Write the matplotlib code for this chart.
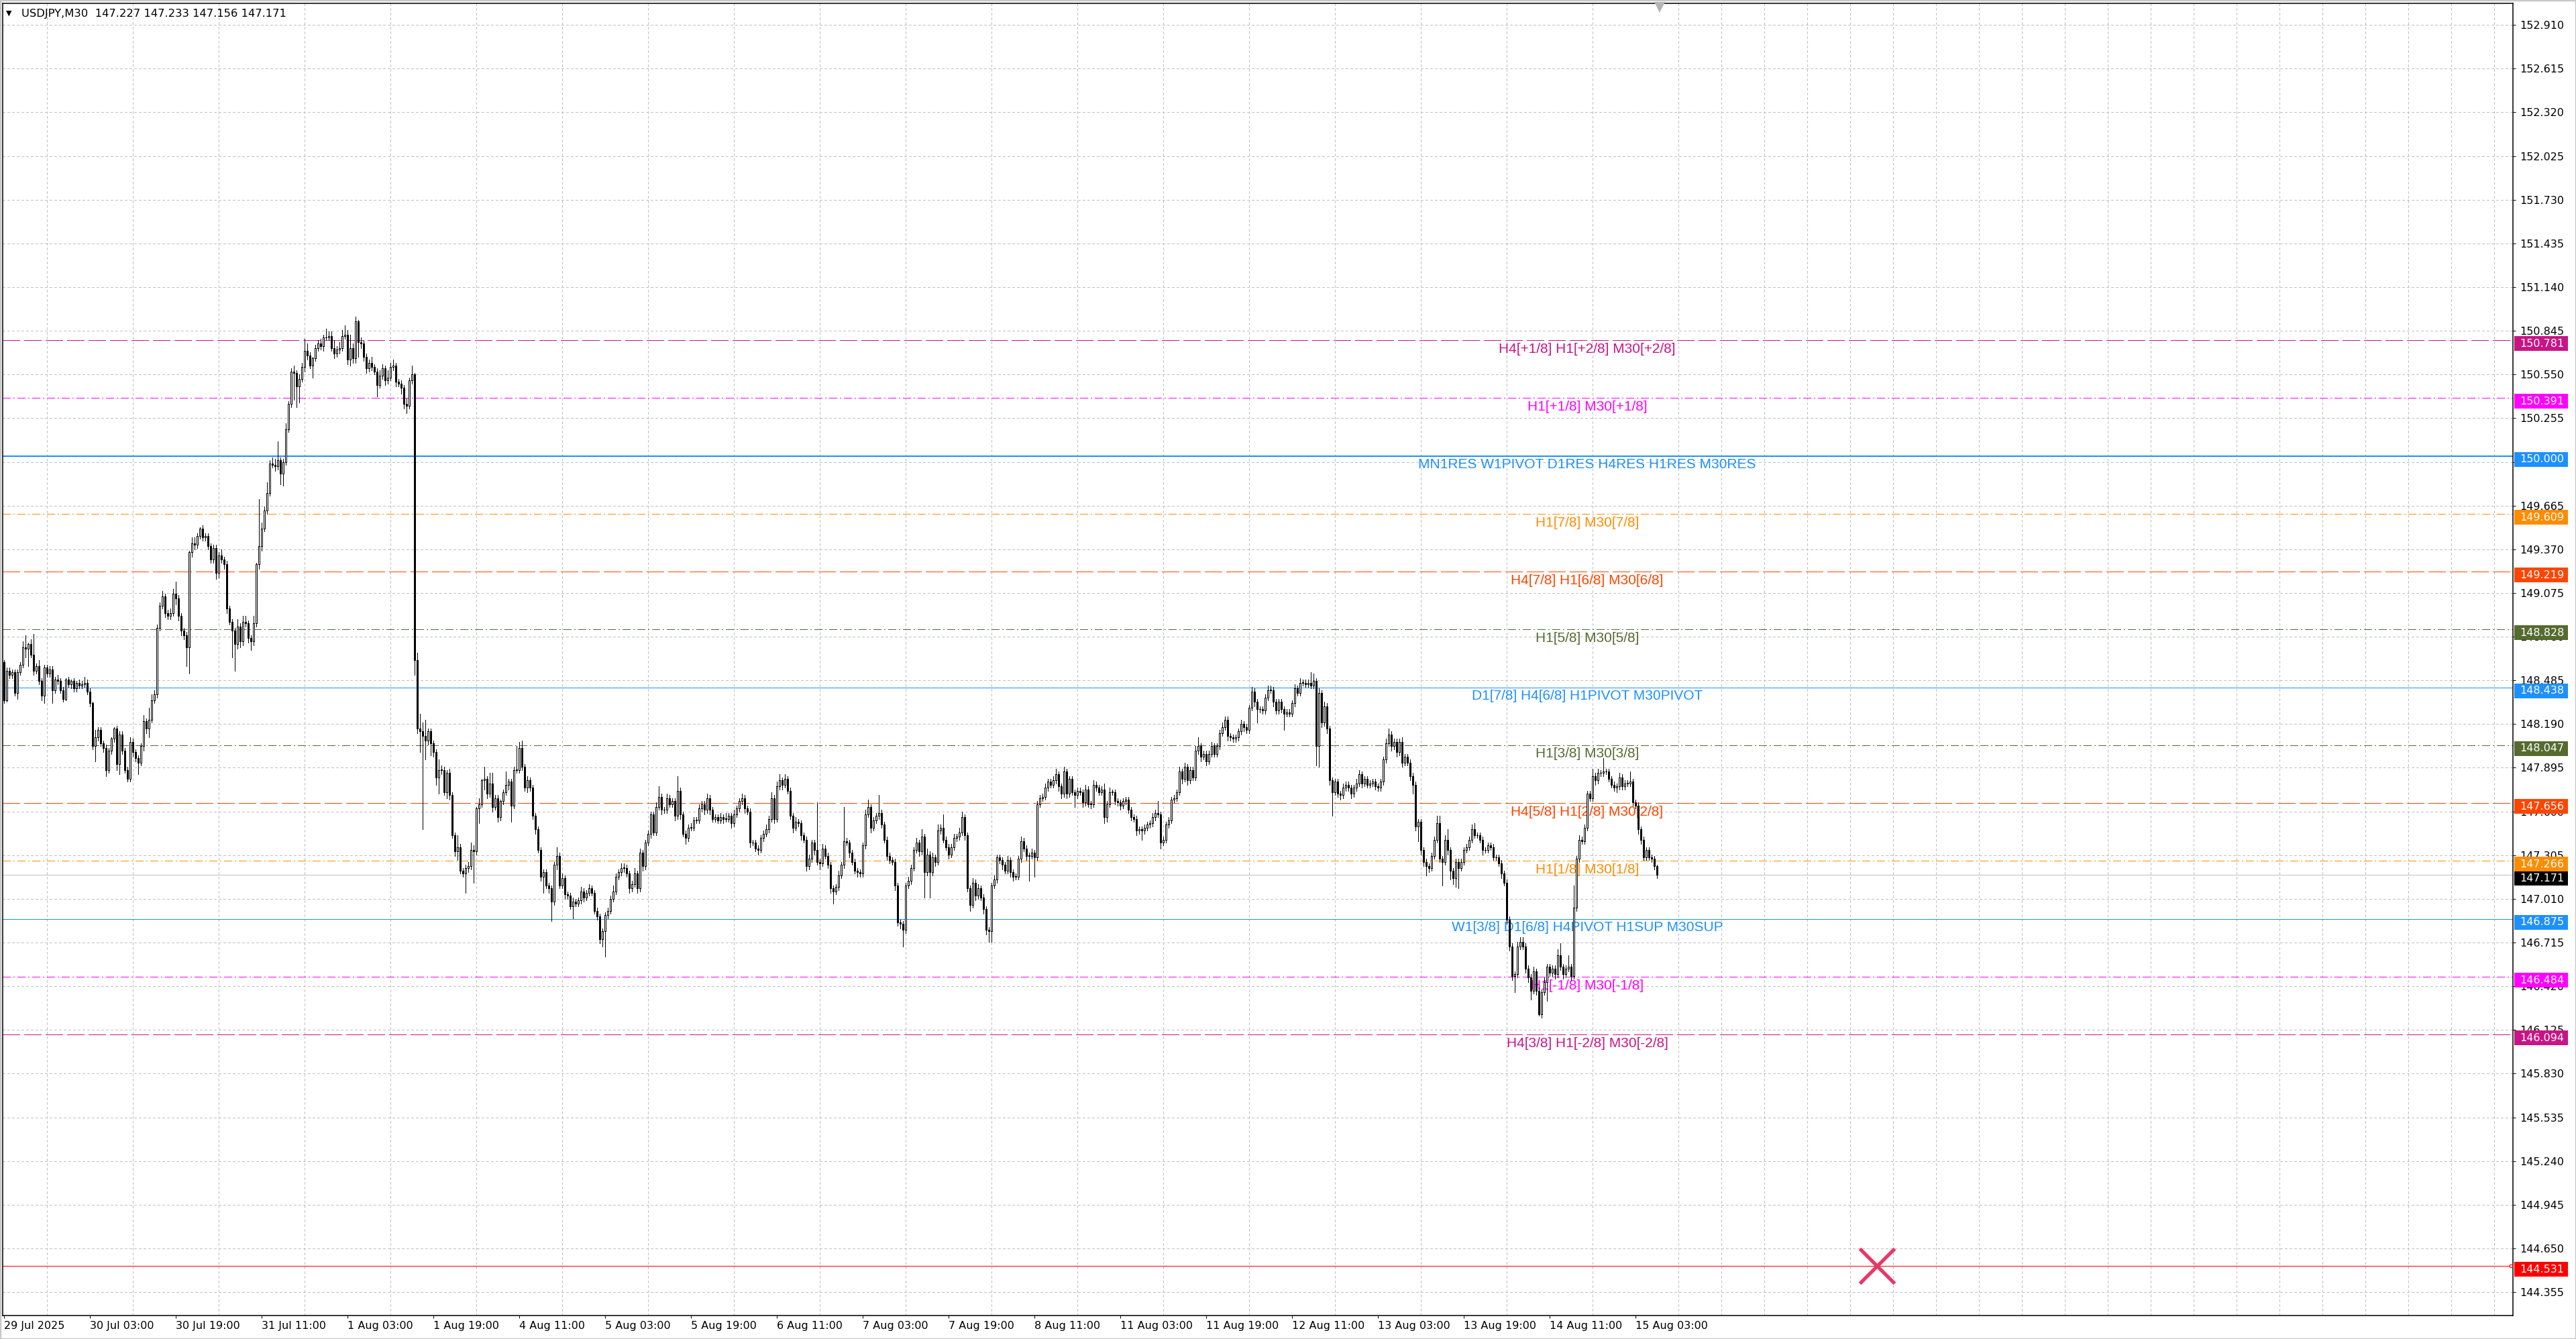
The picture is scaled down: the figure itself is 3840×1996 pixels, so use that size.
import numpy as np
import matplotlib
matplotlib.use("Agg")
import matplotlib.pyplot as plt
from matplotlib.patches import Rectangle
from matplotlib.transforms import blended_transform_factory

plt.rcParams['lines.scale_dashes'] = False
plt.rcParams['font.family'] = ['DejaVu Sans']

# ---------------- data ----------------
chart_title = "USDJPY,M30  147.227 147.233 147.156 147.171"
open_first = 148.61

close = [
    148.35, 148.55, 148.52, 148.54, 148.40, 148.54, 148.59, 148.71, 148.70, 148.73,
    148.66, 148.55, 148.58, 148.48, 148.38, 148.57, 148.53, 148.56, 148.42, 148.49,
    148.48, 148.42, 148.36, 148.49, 148.46, 148.48, 148.43, 148.47, 148.45, 148.46,
    148.47, 148.41, 148.33, 148.04, 148.10, 148.15, 148.06, 148.03, 147.88, 148.01,
    148.09, 148.16, 147.92, 148.12, 148.01, 147.88, 147.82, 148.07, 148.00, 147.96,
    147.93, 148.04, 148.21, 148.16, 148.22, 148.35, 148.39, 148.84, 148.99, 149.05,
    148.94, 148.92, 148.94, 149.07, 149.04, 148.92, 148.82, 148.79, 148.71, 149.35,
    149.41, 149.40, 149.46, 149.51, 149.45, 149.46, 149.39, 149.30, 149.38, 149.21,
    149.33, 149.30, 149.27, 148.97, 148.88, 148.82, 148.73, 148.85, 148.75, 148.88,
    148.87, 148.77, 148.75, 148.87, 149.27, 149.39, 149.51, 149.63, 149.75, 149.95,
    149.94, 149.93, 149.97, 149.88, 149.96, 150.18, 150.35, 150.57, 150.56, 150.47,
    150.52, 150.60, 150.71, 150.68, 150.61, 150.66, 150.73, 150.76, 150.74, 150.80,
    150.80, 150.81, 150.73, 150.69, 150.72, 150.73, 150.81, 150.82, 150.65, 150.73,
    150.66, 150.91, 150.77, 150.76, 150.67, 150.59, 150.63, 150.60, 150.57, 150.48,
    150.54, 150.59, 150.51, 150.53, 150.60, 150.61, 150.50, 150.49, 150.46, 150.35,
    150.34, 150.51, 150.55, 148.62, 148.16, 148.14, 148.11, 148.08, 148.14, 148.06,
    148.00, 147.83, 147.88, 147.88, 147.73, 147.86, 147.71, 147.44, 147.33, 147.36,
    147.20, 147.18, 147.22, 147.23, 147.34, 147.33, 147.62, 147.65, 147.81, 147.82,
    147.72, 147.79, 147.63, 147.69, 147.56, 147.67, 147.73, 147.78, 147.80, 147.64,
    147.88, 147.88, 148.03, 147.90, 147.76, 147.81, 147.76, 147.57, 147.48, 147.34,
    147.16, 147.19, 147.10, 147.08, 146.99, 147.24, 147.30, 147.10, 147.15, 147.04,
    147.03, 146.96, 146.99, 146.98, 147.00, 147.06, 147.02, 147.05, 147.08, 147.05,
    146.93, 146.89, 146.74, 146.79, 146.90, 146.93, 147.01, 147.06, 147.16, 147.19,
    147.22, 147.22, 147.18, 147.08, 147.11, 147.18, 147.08, 147.32, 147.23, 147.39,
    147.45, 147.58, 147.46, 147.63, 147.70, 147.61, 147.61, 147.69, 147.65, 147.67,
    147.57, 147.74, 147.58, 147.45, 147.42, 147.49, 147.49, 147.54, 147.54, 147.62,
    147.65, 147.61, 147.69, 147.61, 147.55, 147.56, 147.54, 147.56, 147.55, 147.55,
    147.57, 147.52, 147.58, 147.62, 147.67, 147.69, 147.62, 147.60, 147.39, 147.39,
    147.35, 147.34, 147.42, 147.45, 147.48, 147.55, 147.69, 147.55, 147.77, 147.81,
    147.78, 147.82, 147.74, 147.57, 147.49, 147.53, 147.52, 147.44, 147.41, 147.23,
    147.28, 147.39, 147.34, 147.26, 147.25, 147.35, 147.30, 147.24, 147.08, 147.06,
    147.09, 147.17, 147.24, 147.40, 147.39, 147.32, 147.26, 147.20, 147.19, 147.18,
    147.37, 147.58, 147.63, 147.49, 147.54, 147.57, 147.59, 147.51, 147.41, 147.30,
    147.27, 147.26, 147.10, 146.85, 146.84, 146.80, 147.10, 147.13, 147.22, 147.34,
    147.39, 147.33, 147.43, 147.19, 147.31, 147.19, 147.29, 147.26, 147.47, 147.49,
    147.41, 147.36, 147.31, 147.36, 147.42, 147.43, 147.46, 147.56, 147.44, 147.08,
    146.97, 147.12, 147.03, 147.08, 147.02, 146.94, 146.80, 146.79, 147.10, 147.14,
    147.29, 147.27, 147.24, 147.20, 147.27, 147.19, 147.16, 147.16, 147.28, 147.40,
    147.35, 147.30, 147.30, 147.32, 147.29, 147.65, 147.69, 147.70, 147.76, 147.80,
    147.78, 147.81, 147.85, 147.77, 147.72, 147.87, 147.72, 147.82, 147.73, 147.71,
    147.74, 147.73, 147.66, 147.75, 147.65, 147.65, 147.78, 147.76, 147.73, 147.75,
    147.56, 147.65, 147.73, 147.73, 147.67, 147.66, 147.64, 147.67, 147.68, 147.61,
    147.56, 147.55, 147.47, 147.48, 147.47, 147.49, 147.51, 147.52, 147.56, 147.59,
    147.58, 147.39, 147.41, 147.51, 147.54, 147.68, 147.69, 147.73, 147.87, 147.82,
    147.90, 147.81, 147.88, 147.83, 148.01, 148.04, 147.97, 147.99, 147.94, 147.99,
    148.04, 147.99, 148.04, 148.13, 148.17, 148.22, 148.11, 148.10, 148.09, 148.10,
    148.14, 148.19, 148.17, 148.15, 148.30, 148.41, 148.34, 148.29, 148.29, 148.28,
    148.37, 148.42, 148.42, 148.34, 148.28, 148.34, 148.29, 148.26, 148.27, 148.26,
    148.33, 148.43, 148.40, 148.47, 148.47, 148.46, 148.47, 148.45, 148.48, 148.04,
    148.40, 148.20, 148.31, 148.16, 147.81, 147.73, 147.80, 147.72, 147.71, 147.76,
    147.78, 147.76, 147.72, 147.76, 147.79, 147.85, 147.79, 147.82, 147.78, 147.79,
    147.80, 147.77, 147.76, 147.80, 147.95, 148.06, 148.12, 148.04, 148.07, 148.00,
    148.07, 147.93, 147.97, 147.93, 147.84, 147.78, 147.50, 147.53, 147.34, 147.26,
    147.23, 147.22, 147.30, 147.41, 147.52, 147.28, 147.26, 147.41, 147.34, 147.20,
    147.15, 147.26, 147.22, 147.26, 147.34, 147.36, 147.41, 147.48, 147.44, 147.44,
    147.41, 147.34, 147.34, 147.37, 147.36, 147.29, 147.29, 147.25, 147.18, 147.12,
    146.87, 146.69, 146.49, 146.50, 146.69, 146.72, 146.69, 146.54, 146.48, 146.39,
    146.52, 146.39, 146.23, 146.38, 146.45, 146.55, 146.51, 146.54, 146.50, 146.63,
    146.55, 146.50, 146.54, 146.55, 146.49, 146.95, 147.28, 147.41, 147.40, 147.49,
    147.72, 147.69, 147.84, 147.81, 147.86, 147.86, 147.87, 147.87, 147.82, 147.78,
    147.76, 147.77, 147.83, 147.77, 147.79, 147.79, 147.80, 147.66, 147.64, 147.48,
    147.41, 147.29, 147.34, 147.29, 147.28, 147.23, 147.171,
]

# upper / lower wick lengths beyond the body, in 0.01 JPY
wick_up = [
    1, 2, 2, 2, 2, 2, 2, 4, 8, 1,
    3, 14, 2, 4, 2, 2, 2, 2, 2, 2,
    3, 2, 2, 1, 2, 1, 2, 1, 2, 2,
    4, 2, 2, 1, 5, 2, 2, 2, 2, 2,
    1, 1, 2, 2, 2, 2, 2, 3, 2, 2,
    2, 2, 4, 2, 8, 4, 3, 2, 2, 4,
    2, 2, 3, 3, 8, 2, 2, 2, 2, 1,
    4, 4, 2, 1, 2, 2, 2, 2, 2, 2,
    2, 4, 2, 2, 2, 2, 2, 5, 2, 4,
    4, 2, 2, 5, 1, 32, 4, 3, 7, 2,
    4, 4, 13, 2, 2, 4, 2, 2, 4, 2,
    3, 3, 8, 5, 2, 1, 2, 2, 3, 2,
    6, 3, 3, 5, 2, 4, 4, 6, 3, 9,
    3, 3, 1, 3, 2, 2, 2, 4, 2, 2,
    4, 3, 2, 5, 3, 4, 2, 2, 2, 2,
    4, 2, 6, 1, 5, 10, 6, 11, 2, 2,
    2, 2, 7, 3, 2, 2, 3, 2, 2, 8,
    2, 2, 2, 3, 5, 3, 1, 4, 1, 8,
    2, 7, 7, 2, 2, 1, 2, 9, 2, 2,
    2, 16, 4, 5, 2, 3, 2, 2, 2, 2,
    2, 2, 2, 2, 2, 2, 6, 2, 3, 2,
    2, 2, 3, 2, 2, 3, 2, 2, 3, 2,
    2, 2, 2, 2, 2, 2, 2, 4, 2, 2,
    3, 3, 2, 2, 2, 4, 2, 3, 2, 2,
    2, 2, 2, 3, 7, 2, 2, 3, 2, 2,
    2, 10, 2, 2, 2, 2, 3, 2, 2, 3,
    2, 2, 3, 2, 2, 2, 2, 3, 2, 4,
    2, 2, 3, 2, 2, 3, 2, 2, 2, 2,
    2, 2, 2, 2, 3, 2, 4, 2, 3, 4,
    2, 3, 2, 2, 2, 3, 2, 2, 2, 2,
    3, 2, 2, 32, 2, 3, 2, 2, 2, 2,
    2, 3, 2, 23, 2, 2, 2, 2, 2, 2,
    2, 3, 5, 2, 2, 2, 12, 2, 2, 2,
    2, 2, 2, 2, 2, 2, 2, 3, 2, 2,
    3, 2, 5, 2, 4, 2, 3, 2, 4, 2,
    9, 2, 2, 2, 3, 2, 3, 4, 2, 2,
    2, 3, 2, 3, 2, 2, 2, 2, 2, 3,
    2, 2, 2, 2, 3, 2, 2, 2, 2, 3,
    2, 2, 2, 3, 2, 2, 2, 2, 3, 2,
    2, 3, 4, 2, 2, 3, 2, 2, 2, 2,
    2, 2, 2, 3, 2, 2, 3, 2, 2, 2,
    4, 2, 3, 2, 2, 2, 2, 2, 2, 2,
    2, 2, 2, 2, 2, 2, 2, 2, 3, 2,
    8, 2, 2, 2, 2, 2, 2, 2, 3, 2,
    3, 2, 2, 2, 3, 6, 2, 2, 2, 2,
    3, 2, 2, 2, 3, 2, 2, 2, 2, 2,
    2, 3, 2, 2, 2, 3, 2, 2, 2, 2,
    2, 3, 3, 2, 2, 2, 2, 2, 2, 2,
    2, 3, 2, 3, 2, 2, 2, 7, 5, 2,
    3, 2, 3, 2, 2, 2, 2, 2, 2, 3,
    2, 2, 2, 2, 3, 3, 2, 2, 2, 2,
    2, 2, 2, 2, 2, 3, 4, 2, 2, 2,
    2, 3, 2, 2, 2, 2, 2, 2, 2, 2,
    2, 2, 2, 2, 5, 5, 2, 3, 7, 2,
    2, 2, 2, 2, 2, 2, 2, 3, 4, 2,
    2, 2, 2, 2, 2, 2, 2, 2, 2, 2,
    2, 2, 2, 2, 3, 3, 3, 2, 2, 2,
    3, 2, 2, 2, 3, 2, 2, 2, 2, 4,
    8, 2, 2, 8, 2, 15, 2, 3, 2, 2,
    2, 2, 5, 2, 3, 2, 9, 2, 2, 2,
    2, 2, 3, 2, 2, 2, 7, 2, 2, 2,
    2, 2, 2, 2, 2, 2, 1,
]

wick_dn = [
    2, 1, 2, 2, 2, 4, 2, 2, 6, 12,
    2, 3, 2, 2, 3, 5, 2, 2, 9, 2,
    2, 2, 2, 1, 2, 3, 2, 2, 2, 2,
    2, 2, 2, 2, 10, 2, 2, 3, 4, 2,
    2, 2, 4, 7, 2, 2, 2, 2, 3, 2,
    8, 2, 3, 3, 6, 2, 2, 2, 2, 2,
    3, 2, 2, 2, 4, 3, 3, 3, 13, 18,
    3, 3, 2, 2, 2, 2, 2, 2, 2, 4,
    3, 2, 3, 3, 2, 18, 18, 3, 4, 3,
    2, 3, 6, 3, 2, 3, 3, 2, 2, 2,
    2, 3, 2, 7, 8, 2, 2, 2, 18, 14,
    11, 2, 3, 3, 2, 8, 2, 2, 2, 3,
    2, 2, 2, 3, 2, 3, 2, 2, 3, 4,
    3, 3, 10, 3, 3, 3, 2, 2, 2, 8,
    2, 2, 3, 2, 2, 2, 3, 2, 4, 3,
    5, 2, 2, 10, 3, 14, 63, 13, 3, 8,
    3, 5, 11, 3, 2, 4, 3, 2, 3, 6,
    2, 2, 13, 3, 2, 21, 2, 10, 2, 6,
    3, 2, 3, 2, 3, 2, 2, 2, 3, 11,
    2, 2, 2, 2, 2, 3, 2, 2, 3, 2,
    3, 11, 2, 3, 13, 2, 3, 2, 2, 3,
    2, 2, 8, 2, 2, 2, 3, 2, 2, 2,
    2, 2, 3, 5, 17, 2, 2, 2, 2, 2,
    2, 3, 2, 3, 2, 2, 3, 2, 3, 2,
    2, 3, 2, 2, 2, 3, 2, 2, 2, 2,
    3, 2, 3, 2, 4, 2, 2, 2, 2, 2,
    2, 3, 2, 3, 2, 2, 2, 2, 3, 2,
    2, 3, 2, 2, 2, 2, 3, 2, 3, 2,
    2, 3, 2, 2, 2, 2, 2, 3, 2, 2,
    3, 2, 2, 2, 3, 2, 2, 3, 2, 3,
    2, 2, 3, 2, 4, 2, 2, 2, 3, 8,
    2, 2, 2, 2, 2, 3, 2, 2, 3, 2,
    2, 2, 2, 3, 2, 2, 2, 2, 2, 3,
    2, 2, 3, 2, 3, 11, 2, 2, 2, 2,
    2, 3, 2, 17, 2, 17, 2, 3, 2, 2,
    2, 2, 3, 2, 2, 2, 2, 2, 3, 2,
    4, 2, 3, 2, 2, 3, 3, 7, 7, 2,
    2, 2, 3, 2, 2, 3, 3, 2, 2, 2,
    2, 3, 17, 2, 13, 2, 2, 2, 2, 2,
    2, 2, 2, 3, 3, 2, 3, 2, 2, 8,
    2, 2, 3, 2, 2, 3, 2, 2, 2, 2,
    4, 3, 2, 2, 2, 2, 3, 2, 2, 2,
    2, 2, 3, 2, 6, 2, 2, 2, 2, 2,
    2, 4, 2, 2, 2, 2, 2, 2, 2, 3,
    2, 3, 2, 2, 2, 2, 3, 2, 3, 2,
    2, 2, 2, 2, 2, 2, 3, 2, 2, 2,
    2, 2, 3, 2, 2, 2, 3, 9, 2, 2,
    2, 2, 2, 3, 2, 2, 2, 11, 2, 2,
    2, 2, 2, 2, 2, 2, 2, 2, 2, 13,
    14, 3, 2, 3, 3, 16, 2, 2, 3, 2,
    2, 2, 3, 2, 2, 2, 3, 2, 2, 2,
    2, 2, 2, 2, 2, 2, 2, 3, 2, 3,
    2, 3, 2, 2, 3, 6, 3, 10, 3, 3,
    6, 3, 2, 2, 2, 2, 16, 2, 3, 6,
    4, 6, 14, 2, 2, 2, 2, 2, 2, 2,
    2, 3, 2, 2, 2, 2, 2, 2, 3, 2,
    3, 3, 3, 11, 2, 2, 2, 3, 3, 6,
    2, 3, 1, 2, 2, 13, 2, 2, 3, 2,
    2, 3, 2, 2, 3, 2, 2, 2, 2, 2,
    2, 2, 2, 3, 2, 2, 2, 2, 2, 2,
    2, 3, 2, 2, 2, 2, 2, 2, 2, 3,
    3, 2, 2, 2, 2, 2, 2,
]

xtick_labels = ["29 Jul 2025", "30 Jul 03:00", "30 Jul 19:00", "31 Jul 11:00", "1 Aug 03:00",
                "1 Aug 19:00", "4 Aug 11:00", "5 Aug 03:00", "5 Aug 19:00", "6 Aug 11:00",
                "7 Aug 03:00", "7 Aug 19:00", "8 Aug 11:00", "11 Aug 03:00", "11 Aug 19:00",
                "12 Aug 11:00", "13 Aug 03:00", "13 Aug 19:00", "14 Aug 11:00", "15 Aug 03:00"]
bars_per_label = 32

yticks = [144.355, 144.650, 144.945, 145.240, 145.535, 145.830, 146.125, 146.420, 146.715,
          147.010, 147.305, 147.600, 147.895, 148.190, 148.485, 148.780, 149.075, 149.370,
          149.665, 149.960, 150.255, 150.550, 150.845, 151.140, 151.435, 151.730, 152.025,
          152.320, 152.615, 152.910]

levels = [150.781, 150.391, 150.000, 149.609, 149.219, 148.828, 148.438, 148.047,
          147.656, 147.266, 146.875, 146.484, 146.094, 144.531]
level_names = ["H4[+1/8] H1[+2/8] M30[+2/8]", "H1[+1/8] M30[+1/8]",
               "MN1RES W1PIVOT D1RES H4RES H1RES M30RES", "H1[7/8] M30[7/8]",
               "H4[7/8] H1[6/8] M30[6/8]", "H1[5/8] M30[5/8]",
               "D1[7/8] H4[6/8] H1PIVOT M30PIVOT", "H1[3/8] M30[3/8]",
               "H4[5/8] H1[2/8] M30[2/8]", "H1[1/8] M30[1/8]",
               "W1[3/8] D1[6/8] H4PIVOT H1SUP M30SUP", "H1[-1/8] M30[-1/8]",
               "H4[3/8] H1[-2/8] M30[-2/8]", ""]
level_colors = ['#C71585', '#FF00FF', '#1E90FF', '#FF8C00', '#FF4500', '#556B2F', '#1E90FF',
                '#556B2F', '#FF4500', '#FF8C00', '#1E90FF', '#FF00FF', '#C71585', '#FF0000']
level_styles = ['dash', 'dashdot', 'solid2', 'dashdot', 'dash', 'dashdot', 'solid',
                'dashdot', 'dash', 'dashdot', 'solid', 'dashdot', 'dash', 'solid']

current_price = 147.171
cross_bar = 698
cross_price = 144.531

# ---------------- figure ----------------
W, H = 3840, 1996
fig = plt.figure(figsize=(W / 100, H / 100), dpi=100)
fig.patch.set_facecolor('white')
ax_l, ax_r, ax_t, ax_b = 4, 3746, 4.5, 1961
ax = fig.add_axes([ax_l / W, 1 - ax_b / H, (ax_r - ax_l) / W, (ax_b - ax_t) / H])
x_lo, x_hi = -0.5, 934.9
y_lo, y_hi = 144.197, 153.058
ax.set_xlim(x_lo, x_hi)
ax.set_ylim(y_lo, y_hi)
axw = ax_r - ax_l
axh = ax_b - ax_t
dpp = (y_hi - y_lo) / axh  # price per pixel
PX = 0.72  # one pixel in points

for s in ax.spines.values():
    s.set_color('black')
    s.set_linewidth(1.1)

grid_kw = dict(color='#C0C0C0', linewidth=PX, linestyle=(0, (2.2, 2.2)),
               antialiased=False)
ax.set_yticks(yticks)
ax.set_yticklabels([f"{v:.3f}" for v in yticks])
ax.yaxis.tick_right()
ax.tick_params(axis='y', which='major', length=2.9, width=PX, pad=4.3,
               labelsize=11.5, direction='out', colors='black')
ax.set_xticks(np.arange(len(xtick_labels)) * bars_per_label)
ax.set_xticklabels(xtick_labels, ha='left')
ax.set_xticks(np.arange(0, x_hi, bars_per_label // 2), minor=True)
ax.tick_params(axis='x', which='minor', length=0)
ax.tick_params(axis='x', which='major', length=2.9, width=PX, pad=2.5,
               labelsize=11.5, direction='out')
ax.grid(True, which='minor', axis='x', **grid_kw)
ax.grid(True, which='major', axis='y', **grid_kw)
ax.grid(False, which='major', axis='x')
ax.set_axisbelow(True)

tr = blended_transform_factory(ax.transAxes, ax.transData)

# current price line
ax.axhline(current_price, color='#C0C0C0', linewidth=PX, zorder=1.4, antialiased=False)

# level lines and labels
dash_map = {'dash': (0, (18, 5)), 'dashdot': (0, (8.6, 2.9, 1.4, 2.9)),
            'solid': '-', 'solid2': '-'}
for lvl, name, col, sty in zip(levels, level_names, level_colors, level_styles):
    lw = 2 * PX if sty == 'solid2' else PX
    ax.axhline(lvl, color=col, linewidth=lw, linestyle=dash_map[sty], zorder=1.5,
               antialiased=False)
    if name:
        ax.annotate(name, xy=(0.6312, lvl), xycoords=tr, xytext=(0, -2.5),
                    textcoords='offset points', ha='center', va='top',
                    fontsize=15, family=['Liberation Sans', 'DejaVu Sans'],
                    color=col, zorder=1.8)

# candles
n = len(close)
xs = np.arange(n)
c = np.array(close)
o = np.concatenate([[open_first], c[:-1]])
hi = np.maximum(o, c) + np.array(wick_up[:n]) * 0.01
lo = np.minimum(o, c) - np.array(wick_dn[:n]) * 0.01
ax.vlines(xs, lo, hi, color='black', linewidth=PX, zorder=3, antialiased=False)
body_h = np.maximum(np.abs(c - o), 0.002)
face = np.where(c >= o, 'white', 'black')
ax.bar(xs, body_h, bottom=np.minimum(o, c), width=0.5, color=face,
       edgecolor='black', linewidth=PX, zorder=4, antialiased=False)

# price boxes on the right scale
def price_box(val, col, z):
    ax.add_patch(Rectangle((1 + 2 / axw, val - 16 * dpp), 80 / axw, 22 * dpp,
                           transform=tr, facecolor=col, edgecolor='none',
                           clip_on=False, zorder=z))
    ax.text(1 + 10 / axw, val - 5 * dpp, f"{val:.3f}", transform=tr, color='white',
            fontsize=11.5, ha='left', va='center', clip_on=False, zorder=z + 0.1)

price_box(current_price, 'black', 5)
for lvl, col in zip(levels, level_colors):
    price_box(lvl, col, 6)

# small square at end of red line
ax.plot([1 - 3 / axw], [levels[-1]], transform=tr, marker='s', markersize=3.5,
        markerfacecolor='white', markeredgecolor='#FF0000', markeredgewidth=0.8,
        clip_on=False, zorder=7)

# red cross object
ax.plot([cross_bar], [cross_price], marker='x', markersize=37, markeredgewidth=3.8,
        color='#E8386A', zorder=8)

# chart shift marker
trx = blended_transform_factory(ax.transData, ax.transAxes)
ax.plot([n], [1 - 6 / axh], transform=trx, marker='v', markersize=12,
        color='#B4B4B4', markeredgewidth=0, clip_on=False, zorder=8)

# title
fig.text(9 / W, 1 - 20 / H, "\u25BC", fontsize=8, ha='left', va='center', color='black')
fig.text(32 / W, 1 - 20 / H, chart_title, fontsize=11.8, ha='left', va='center', color='black')

# window frame
fig.patches.append(Rectangle((0, 0), 1, 1, transform=fig.transFigure, fill=False,
                             edgecolor='#C8C8C8', linewidth=2.5))

fig.savefig("out.png", dpi=100, facecolor='white')
